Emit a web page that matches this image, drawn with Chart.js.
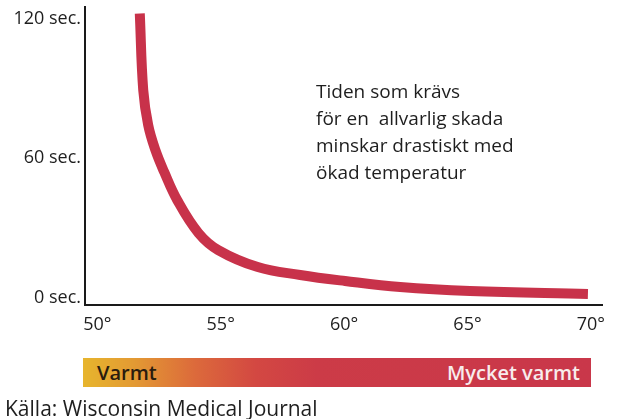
<!DOCTYPE html>
<html>
<head>
<meta charset="utf-8">
<script src="https://cdn.jsdelivr.net/npm/chart.js@4"></script>
<style>
  html,body{margin:0;padding:0;background:#fff;}
  #wrap{position:relative;width:617px;height:419px;overflow:hidden;font-family:"Open Sans",sans-serif;}
  #c{position:absolute;left:0;top:0;}
  #note{position:absolute;left:316px;top:78px;font-size:19px;line-height:27px;color:#1e1e1e;white-space:pre;}
  #bar{position:absolute;left:83px;top:358px;width:508px;height:29px;
       background:linear-gradient(to right,#e7b52d 0%,#e39a33 10%,#dc6a3b 22%,#d34842 34%,#cc3b47 46%,#c9374a 100%);}
  #bar span{position:absolute;top:0;line-height:29px;font-size:20px;font-weight:600;}
  #lo{left:14px;color:#2a1c0e;}
  #hi{right:11px;color:#f8ecec;}
  #src{position:absolute;left:5px;top:396px;font-size:21px;line-height:24px;color:#1e1e1e;white-space:nowrap;}
</style>
</head>
<body>
<div id="wrap">
  <canvas id="c" width="617" height="419"></canvas>
  <div id="note">Tiden som krävs
för en  allvarlig skada
minskar drastiskt med
ökad temperatur</div>
  <div id="bar"><span id="lo">Varmt</span><span id="hi">Mycket varmt</span></div>
  <div id="src">Källa: Wisconsin Medical Journal</div>
</div>
<script>
// Data: temperature (°C) vs time to serious injury (seconds)
const temperatures = [51.72, 51.86, 52.06, 52.35, 52.71, 53.24, 54.10, 54.90, 56.50, 58.22, 60.04, 62.27, 65.10, 69.88];
const seconds      = [122.2, 89.3, 74.3, 63.6, 54.1, 42.0, 27.9, 20.6, 13.3, 9.9, 7.3, 4.7, 3.0, 1.7];
const xTickValues  = [50, 55, 60, 65, 70];
const yTickValues  = [0, 60, 120];
const xTickSuffix  = "°";
const yTickSuffix  = " sec.";

const points = temperatures.map((t, i) => ({x: t, y: seconds[i]}));

new Chart(document.getElementById('c'), {
  type: 'line',
  data: {
    datasets: [{
      data: points,
      borderColor: '#c8324a',
      borderWidth: 10,
      borderCapStyle: 'butt',
      pointRadius: 0,
      fill: false,
      tension: 0.4,
      clip: false
    }]
  },
  options: {
    responsive: false,
    animation: false,
    devicePixelRatio: 1,
    layout: {padding: {top: 7, right: 15, left: 0, bottom: 0}},
    plugins: {legend: {display: false}, tooltip: {enabled: false}},
    scales: {
      x: {
        type: 'linear',
        min: 49.5, max: 70.45,
        afterBuildTicks: s => { s.ticks = xTickValues.map(v => ({value: v})); },
        afterFit: s => { s.height = 114; s.paddingLeft = 0; s.paddingRight = 0; },
        grid: {display: true, color: 'rgba(0,0,0,0)', drawTicks: false},
        border: {display: true, color: '#1a1a1a', width: 2},
        ticks: {
          padding: 9,
          color: '#1e1e1e',
          font: {family: 'Open Sans', size: 18},
          callback: v => v + xTickSuffix
        }
      },
      y: {
        type: 'linear',
        min: -3, max: 125,
        afterBuildTicks: s => { s.ticks = yTickValues.map(v => ({value: v})); },
        afterFit: s => { s.width = 85; s.paddingTop = 0; s.paddingBottom = 0; },
        grid: {display: true, color: 'rgba(0,0,0,0)', drawTicks: false},
        border: {display: true, color: '#1a1a1a', width: 2},
        ticks: {
          padding: 4,
          color: '#1e1e1e',
          font: {family: 'Open Sans', size: 18},
          callback: v => v + yTickSuffix
        }
      }
    }
  }
});
</script>
</body>
</html>
